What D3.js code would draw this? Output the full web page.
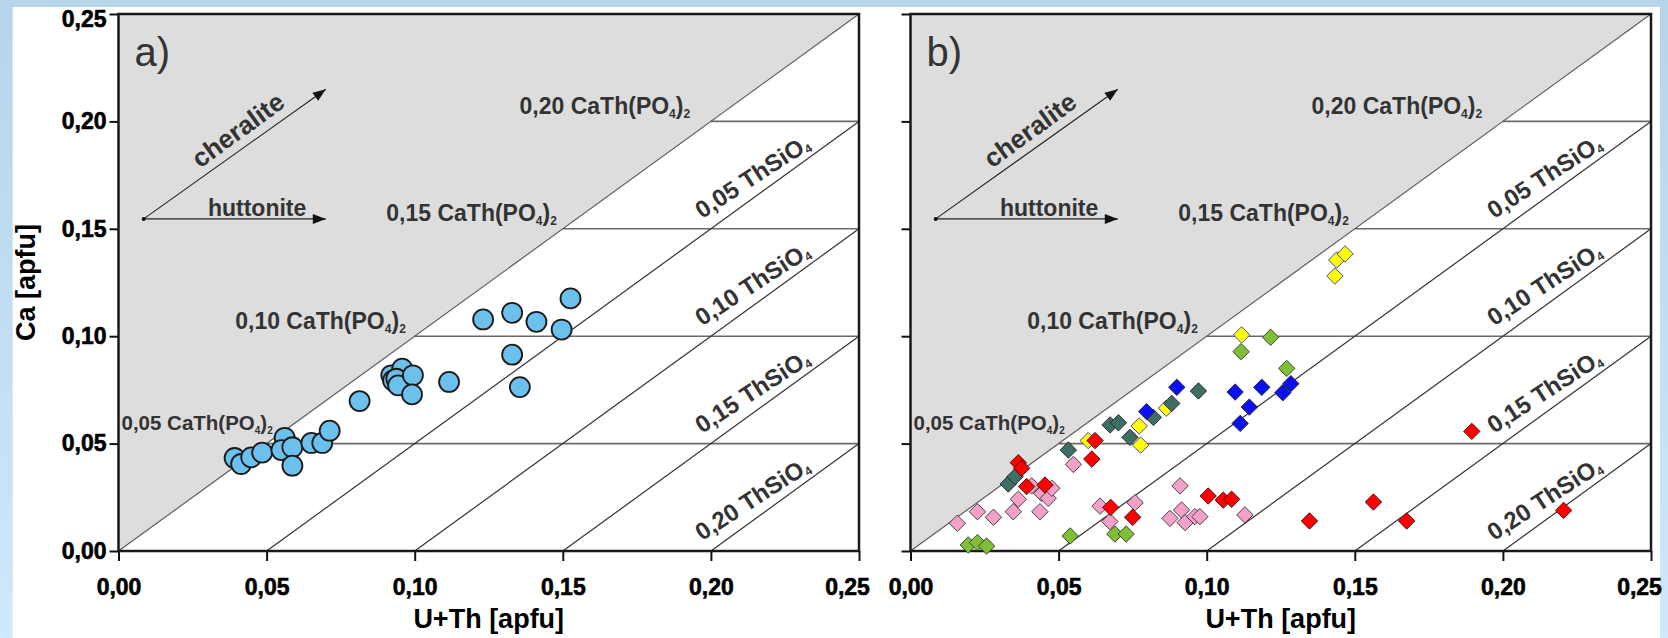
<!DOCTYPE html>
<html>
<head>
<meta charset="utf-8">
<script src="https://cdn.jsdelivr.net/npm/d3@7"></script>
<style>
  body { margin: 0; background: #fff; }
  svg { display: block; font-family: "Liberation Sans", Arial, sans-serif; }
</style>
</head>
<body>
<svg id="chart"></svg>
<script>
var svgWidth = 1668;
var svgHeight = 638;

// ticks and reference lines
var xTicks = [0, 0.05, 0.10, 0.15, 0.20, 0.25];
var yTicks = [0, 0.05, 0.10, 0.15, 0.20, 0.25];
var caThLevels = [0.05, 0.10, 0.15, 0.20];
var thSiLevels = [0.05, 0.10, 0.15, 0.20];

// panel a) samples: [U+Th, Ca] in apfu
var samplesA = [
  [0.0392, 0.0433], [0.0414, 0.0405], [0.0448, 0.0436], [0.0485, 0.0458],
  [0.0561, 0.0527], [0.0550, 0.0470], [0.0587, 0.0483], [0.0587, 0.0397],
  [0.0651, 0.0503], [0.0688, 0.0503], [0.0713, 0.0560], [0.0814, 0.0698],
  [0.0921, 0.0818], [0.0927, 0.0794], [0.0958, 0.0849], [0.0938, 0.0802],
  [0.0944, 0.0771], [0.0994, 0.0818], [0.0991, 0.0729], [0.1116, 0.0787],
  [0.1231, 0.1078], [0.1329, 0.1109], [0.1411, 0.1067], [0.1496, 0.1031],
  [0.1526, 0.1176], [0.1329, 0.0914], [0.1355, 0.0763]
];

// panel b) samples, one array per group
var yellowB = [
  [0.1439, 0.1355], [0.1467, 0.1383], [0.1433, 0.1280], [0.1118, 0.1006],
  [0.0772, 0.0582], [0.0777, 0.0493], [0.0864, 0.0665], [0.0600, 0.0514]
];
var pinkB = [
  [0.0158, 0.0129], [0.0226, 0.0183], [0.0280, 0.0157], [0.0347, 0.0183],
  [0.0364, 0.0241], [0.0437, 0.0183], [0.0409, 0.0303], [0.0443, 0.0268],
  [0.0465, 0.0245], [0.0477, 0.0292], [0.0550, 0.0403], [0.0640, 0.0209],
  [0.0673, 0.0137], [0.0758, 0.0225], [0.0910, 0.0303], [0.0876, 0.0152],
  [0.0915, 0.0191], [0.0927, 0.0132], [0.0960, 0.0160], [0.0977, 0.0160],
  [0.1129, 0.0168]
];
var greenB = [
  [0.1216, 0.0995], [0.1116, 0.0928], [0.1270, 0.0850], [0.0195, 0.0028],
  [0.0226, 0.0039], [0.0257, 0.0023], [0.0539, 0.0070], [0.0690, 0.0079],
  [0.0728, 0.0079]
];
var tealB = [
  [0.0330, 0.0312], [0.0353, 0.0346], [0.0533, 0.0470], [0.0674, 0.0587],
  [0.0702, 0.0597], [0.0741, 0.0529], [0.0820, 0.0622], [0.0882, 0.0687],
  [0.0972, 0.0745]
];
var blueB = [
  [0.0797, 0.0649], [0.0899, 0.0762], [0.1096, 0.0740], [0.1186, 0.0762],
  [0.1144, 0.0670], [0.1113, 0.0594], [0.1257, 0.0737], [0.1284, 0.0779]
];
var redB = [
  [0.0364, 0.0411], [0.0375, 0.0385], [0.0392, 0.0300], [0.0454, 0.0307],
  [0.0623, 0.0514], [0.0612, 0.0428], [0.0676, 0.0203], [0.0750, 0.0157],
  [0.1005, 0.0256], [0.1056, 0.0237], [0.1084, 0.0241], [0.1895, 0.0557],
  [0.2205, 0.0189], [0.1563, 0.0228], [0.1347, 0.0140], [0.1675, 0.0140]
];

// layout
var plotTop = 14, plotW = 740.5, plotH = 537;
var panelLeft = { a: 118.5, b: 910.5 };
var fmt = function(d) { return d3.format(".2f")(d).replace(".", ","); };
var textGrey = "#333";

var svg = d3.select("#chart")
  .attr("width", svgWidth)
  .attr("height", svgHeight);

// light blue page frame
var grad = svg.append("defs").append("linearGradient")
  .attr("id", "bg").attr("x1", 0).attr("y1", 0).attr("x2", 0).attr("y2", 1);
grad.append("stop").attr("offset", "0%").attr("stop-color", "#b6d4ea");
grad.append("stop").attr("offset", "100%").attr("stop-color", "#cfe8fa");
svg.append("rect").attr("width", svgWidth).attr("height", svgHeight).attr("fill", "url(#bg)");
svg.append("rect").attr("x", 12.7).attr("y", 7)
  .attr("width", 1660 - 12.7).attr("height", svgHeight - 7).attr("fill", "#fff");

// writes "0,10 CaTh(PO4)2" with subscripts
function caThText(t, level, size) {
  var sub = Math.round(size * 0.5);
  t.append("tspan").attr("font-size", size).text(fmt(level) + " CaTh(PO");
  t.append("tspan").attr("font-size", sub).attr("dy", 4).text("4");
  t.append("tspan").attr("font-size", size).attr("dy", -4).text(")");
  t.append("tspan").attr("font-size", sub).attr("dy", 4).text("2");
}
function thSiText(t, level, size) {
  var sub = Math.round(size * 0.5);
  t.append("tspan").attr("font-size", size).text(fmt(level) + " ThSiO");
  t.append("tspan").attr("font-size", sub).attr("dy", 3).text("4");
}

function drawPanel(key, showYLabels) {
  var g = svg.append("g")
    .attr("transform", `translate(${panelLeft[key]}, ${plotTop})`);

  var x = d3.scaleLinear().domain([0, 0.25]).range([0, plotW]);
  var y = d3.scaleLinear().domain([0, 0.25]).range([plotH, 0]);
  var angle = -Math.atan2(y(0) - y(0.25), x(0.25) - x(0)) * 180 / Math.PI;

  // cheralite field (above Ca = U+Th)
  g.append("path")
    .attr("d", d3.line()([[x(0), y(0)], [x(0), y(0.25)], [x(0.25), y(0.25)]]) + "Z")
    .attr("fill", "#dddddd");

  // horizontal CaTh(PO4)2 lines
  g.selectAll(".hline").data(caThLevels).enter().append("line")
    .attr("x1", d => x(d)).attr("x2", x(0.25))
    .attr("y1", d => y(d)).attr("y2", d => y(d))
    .attr("stroke", "#6a6a6a").attr("stroke-width", 1.6);

  // Ca = U+Th line
  g.append("line")
    .attr("x1", x(0)).attr("y1", y(0)).attr("x2", x(0.25)).attr("y2", y(0.25))
    .attr("stroke", "#555").attr("stroke-width", 1.1);

  // ThSiO4 lines
  g.selectAll(".dline").data(thSiLevels).enter().append("line")
    .attr("x1", d => x(d)).attr("y1", y(0))
    .attr("x2", x(0.25)).attr("y2", d => y(0.25 - d))
    .attr("stroke", "#333").attr("stroke-width", 1.2);

  // CaTh(PO4)2 labels
  var caThEnd = { 0.10: 0.097, 0.15: 0.148, 0.20: 0.193 };
  caThLevels.forEach(function(lv) {
    var t = g.append("text").attr("fill", textGrey).attr("font-weight", "bold");
    if (lv === 0.05) {
      t.attr("x", x(0) + 3).attr("y", y(0.0565));
      caThText(t, lv, 20.5);
    } else {
      t.attr("x", x(caThEnd[lv])).attr("y", y(lv + 0.0035))
        .attr("text-anchor", "end");
      caThText(t, lv, 23);
    }
  });

  // ThSiO4 labels, a little flatter than their lines
  thSiLevels.forEach(function(lv) {
    var t = g.append("text").attr("fill", textGrey).attr("font-weight", "bold")
      .attr("transform", `translate(${x(0.197)}, ${y(0.2045 - lv)}) rotate(-33)`);
    thSiText(t, lv, 24);
  });

  // substitution vectors
  var o = [0.0085, 0.1546];
  var ah = [[0, 0], [-13, -5], [-13, 5]];
  [[0.07, 0.1546], [0.07, 0.215]].forEach(function(e) {
    var x0 = x(o[0]), y0 = y(o[1]), x1 = x(e[0]), y1 = y(e[1]);
    var a = Math.atan2(y1 - y0, x1 - x0) * 180 / Math.PI;
    g.append("line").attr("x1", x0).attr("y1", y0).attr("x2", x1).attr("y2", y1)
      .attr("stroke", "#222").attr("stroke-width", 1.1);
    g.append("path").attr("d", d3.line()(ah) + "Z")
      .attr("transform", `translate(${x1}, ${y1}) rotate(${a})`)
      .attr("fill", "#111");
  });
  g.append("circle").attr("cx", x(o[0])).attr("cy", y(o[1])).attr("r", 2).attr("fill", "#111");
  g.append("text").attr("x", x(0.0302)).attr("y", y(0.1558))
    .attr("font-size", 23).attr("font-weight", "bold").attr("fill", textGrey)
    .text("huttonite");
  g.append("text").attr("font-size", 26).attr("font-weight", "bold").attr("fill", textGrey)
    .attr("transform", `translate(${x(0.0275)}, ${y(0.1780)}) rotate(${angle})`)
    .text("cheralite");

  // panel letter
  g.append("text").attr("x", 16).attr("y", 52)
    .attr("font-size", 40).attr("fill", textGrey)
    .text(key + ")");

  // axes
  var xAxis = g.append("g").attr("transform", `translate(0, ${plotH})`)
    .call(d3.axisBottom(x).tickValues(xTicks).tickFormat(fmt).tickSize(10).tickPadding(18));
  var yAxis = g.append("g")
    .call(d3.axisLeft(y).tickValues(yTicks).tickFormat(fmt).tickSize(9).tickPadding(3));
  [xAxis, yAxis].forEach(function(ax) {
    ax.select(".domain").remove();
    ax.selectAll("line").attr("stroke", "#111").attr("stroke-width", 2);
    ax.selectAll("text")
      .attr("font-size", 23).attr("font-weight", "bold")
      .attr("fill", "#000").attr("stroke", "#000").attr("stroke-width", 0.6)
      .attr("font-family", "'Liberation Sans', Arial, sans-serif");
  });
  xAxis.selectAll("text").filter(d => d === 0.25).attr("dx", -12);
  if (showYLabels) {
    yAxis.selectAll("text").filter(d => d === 0.25).attr("dy", "0.55em");
  } else {
    yAxis.selectAll("text").remove();
  }

  // frame
  g.append("rect").attr("width", plotW).attr("height", plotH)
    .attr("fill", "none").attr("stroke", "#1a1a1a").attr("stroke-width", 2.5);

  // axis titles
  svg.append("text")
    .attr("x", panelLeft[key] + plotW / 2).attr("y", 628)
    .attr("text-anchor", "middle").attr("font-size", 27).attr("font-weight", "bold")
    .text("U+Th [apfu]");

  return { g: g, x: x, y: y };
}

var pa = drawPanel("a", true);
var pb = drawPanel("b", false);

svg.append("text")
  .attr("transform", `translate(35, ${plotTop + plotH / 2}) rotate(-90)`)
  .attr("text-anchor", "middle").attr("font-size", 27).attr("font-weight", "bold")
  .text("Ca [apfu]");

// panel a circles
pa.g.selectAll(".pt").data(samplesA).enter().append("circle")
  .attr("cx", d => pa.x(d[0])).attr("cy", d => pa.y(d[1]))
  .attr("r", 10)
  .attr("fill", "#6cc0ec").attr("stroke", "#1a1a1a").attr("stroke-width", 1.8);

// panel b diamonds
var diamond = "M0,-8.2L8.2,0L0,8.2L-8.2,0Z";
var groupsB = [
  { data: yellowB, fill: "#ffff00", stroke: "#3434b8" },
  { data: pinkB, fill: "#f5a0c8", stroke: "#333" },
  { data: greenB, fill: "#7fbf35", stroke: "#333" },
  { data: tealB, fill: "#3f6e66", stroke: "#222" },
  { data: blueB, fill: "#0a10f0", stroke: "#222" },
  { data: redB, fill: "#ff0000", stroke: "#331010" }
];
groupsB.forEach(function(s) {
  pb.g.append("g").selectAll("path").data(s.data).enter().append("path")
    .attr("d", diamond)
    .attr("transform", d => `translate(${pb.x(d[0])}, ${pb.y(d[1])})`)
    .attr("fill", s.fill).attr("stroke", s.stroke).attr("stroke-width", 0.9);
});
</script>
</body>
</html>
